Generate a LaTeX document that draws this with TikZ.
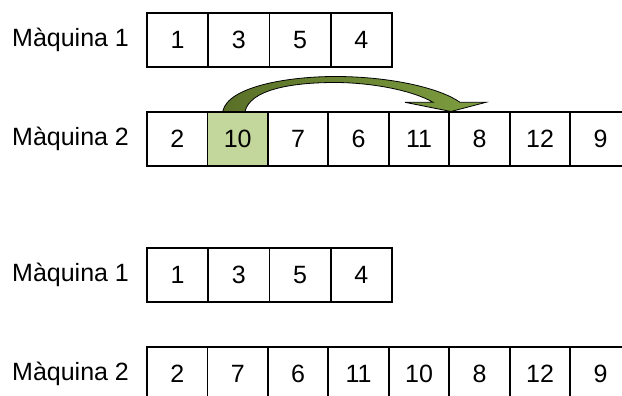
\documentclass[tikz,border=0pt]{standalone}
\usepackage{fontspec}
\setmainfont{Liberation Sans}
\definecolor{hilite}{HTML}{C3D69B}
\definecolor{arrowdark}{HTML}{5A7028}
\definecolor{arrowlight}{HTML}{7E9E40}
\tikzset{
  cellA/.style={draw=black, line width=1.8pt, minimum width=61.25pt, minimum height=54pt, inner sep=0pt, outer sep=0pt, font=\fontsize{25}{25}\selectfont},
  cellB/.style={draw=black, line width=1.8pt, minimum width=60.5pt, minimum height=54pt, inner sep=0pt, outer sep=0pt, font=\fontsize{25}{25}\selectfont},
  lab/.style={anchor=west, inner sep=0pt, font=\fontsize{25}{25}\selectfont},
  barrow/.style={draw=black, line width=0.8pt, left color=arrowdark, right color=arrowlight}
}
\begin{document}
\begin{tikzpicture}[x=1pt, y=-1pt]
\useasboundingbox (0,0) rectangle (622,396);
% labels
\node[lab] (l1) at (12,39.7) {Màquina 1};
\node[lab] (l2) at (12,139.2) {Màquina 2};
\node[lab] (l3) at (12,274.7) {Màquina 1};
\node[lab] (l4) at (12,373.7) {Màquina 2};
% row 1
\foreach \v [count=\i] in {1,3,5,4} {
  \node[cellA] (a\i) at ({147+61.25*(\i-0.5)},39.7) {\v};
}
% row 2
\foreach \v [count=\i] in {2,10,7,6,11,8,12,9} {
  \ifnum\i=2
    \node[cellB, fill=hilite] (b\i) at ({147+60.47*(\i-0.5)},139.2) {\v};
  \else
    \node[cellB] (b\i) at ({147+60.47*(\i-0.5)},139.2) {\v};
  \fi
}
% row 3
\foreach \v [count=\i] in {1,3,5,4} {
  \node[cellA] (c\i) at ({147+61.25*(\i-0.5)},274.7) {\v};
}
% row 4
\foreach \v [count=\i] in {2,7,6,11,10,8,12,9} {
  \node[cellB] (d\i) at ({147+60.47*(\i-0.5)},373.7) {\v};
}
% curved block arrow
\path[barrow] (222.7,111.5)
  .. controls (228,86) and (290,76.5) .. (335,76.5)
  .. controls (390,76.5) and (440,88) .. (460,102.3)
  -- (486,102.3) -- (451,111.5) -- (405,102.3) -- (433,102.3)
  .. controls (412,90) and (370,82.5) .. (335,82.5)
  .. controls (290,82.5) and (250,90) .. (245,111.5) -- cycle;
\end{tikzpicture}
\end{document}
